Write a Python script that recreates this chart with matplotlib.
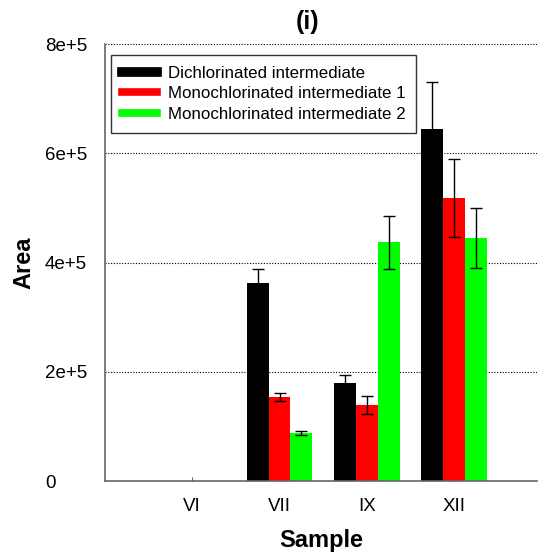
import numpy as np
import matplotlib.pyplot as plt
from matplotlib.lines import Line2D

plt.rcParams['font.family'] = ['Liberation Sans', 'DejaVu Sans']

# peak areas per sample
samples = ['VI', 'VII', 'IX', 'XII']
series = ['Dichlorinated intermediate', 'Monochlorinated intermediate 1', 'Monochlorinated intermediate 2']
colors = ['#000000', '#ff0000', '#00ff00']

dichloro = [0, 3.63e5, 1.79e5, 6.44e5]
dichloro_err = [0, 0.26e5, 0.16e5, 0.86e5]
mono1 = [0, 1.54e5, 1.39e5, 5.18e5]
mono1_err = [0, 0.07e5, 0.17e5, 0.71e5]
mono2 = [0, 0.88e5, 4.37e5, 4.45e5]
mono2_err = [0, 0.045e5, 0.49e5, 0.55e5]

values = [dichloro, mono1, mono2]
errors = [dichloro_err, mono1_err, mono2_err]

fig = plt.figure(figsize=(5.38, 5.60), dpi=100)
ax = fig.add_axes([0.1952, 0.141, 0.803, 0.780])

x = np.arange(len(samples))
w = 0.25
for i, (vals, errs, c) in enumerate(zip(values, errors, colors)):
    pos = x + (i - 1) * w
    ax.bar(pos, vals, width=w, color=c, zorder=2)
    mask = np.array(vals) > 0
    ax.errorbar(pos[mask], np.array(vals)[mask], yerr=np.array(errs)[mask],
                fmt='none', ecolor='black', elinewidth=1, capsize=4, capthick=1, zorder=3)

ax.set_xlim(-1, 3.95)
ax.set_ylim(0, 8e5)
ax.set_xticks(x)
ax.set_xticklabels(samples, fontsize=13.5)
ax.set_yticks([0, 2e5, 4e5, 6e5, 8e5])
ax.set_yticklabels(['0', '2e+5', '4e+5', '6e+5', '8e+5'], fontsize=13.5, ha='left')
ax.tick_params(axis='y', length=0, pad=43.2)
ax.tick_params(axis='x', length=3, direction='in', color='#666666', pad=12)

for y in [2e5, 4e5, 6e5, 8e5]:
    ax.axhline(y, color='black', linestyle=(0, (1, 1.5)), linewidth=0.8, zorder=1)

for s in ['top', 'right']:
    ax.spines[s].set_visible(False)
for s in ['left', 'bottom']:
    ax.spines[s].set_color('#666666')
    ax.spines[s].set_linewidth(1.2)

ax.set_xlabel('Sample', fontsize=17, fontweight='bold', labelpad=10)
ax.set_ylabel('Area', fontsize=17, fontweight='bold', labelpad=7)
ax.set_title('(i)', fontsize=18, fontweight='bold', pad=11, x=0.468)

handles = [Line2D([0], [0], color=colors[0], linewidth=7),
           Line2D([0], [0], color=colors[1], linewidth=5.5),
           Line2D([0], [0], color=colors[2], linewidth=5.5)]
leg = ax.legend(handles, series, loc='upper left', bbox_to_anchor=(0.014, 0.975),
                borderaxespad=0, fontsize=12.2, handlelength=2.1, handletextpad=0.65,
                labelspacing=0.34, borderpad=0.62, fancybox=False, framealpha=1,
                edgecolor='#333333')
leg.get_frame().set_linewidth(1)

fig.savefig('out.png', dpi=100)
